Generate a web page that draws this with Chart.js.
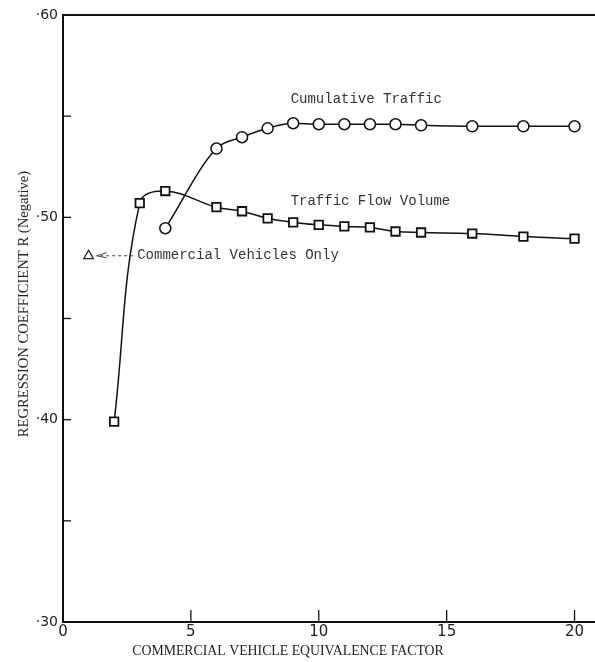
<!DOCTYPE html>
<html>
<head>
<meta charset="utf-8">
<script src="https://cdn.jsdelivr.net/npm/chart.js@4.4.1/dist/chart.umd.min.js"></script>
<style>
  html, body { margin: 0; padding: 0; background: #fff; overflow: hidden; }
  #wrap { width: 595px; height: 662px; position: relative; }
  canvas { display: block; }
</style>
</head>
<body>
<div id="wrap"><canvas id="chart"></canvas></div>
<script>
// values
const flowX = [2, 3, 4, 6, 7, 8, 9, 10, 11, 12, 13, 14, 16, 18, 20];
const flowR = [0.399, 0.507, 0.513, 0.505, 0.503, 0.4995, 0.4975, 0.4963, 0.4955, 0.495, 0.493, 0.4925, 0.492, 0.4905, 0.4895];
const cumX = [4, 6, 7, 8, 9, 10, 11, 12, 13, 14, 16, 18, 20];
const cumR = [0.4946, 0.534, 0.5396, 0.544, 0.5465, 0.546, 0.546, 0.546, 0.546, 0.5455, 0.545, 0.545, 0.545];
const commX = [1];
const commR = [0.481];
const xTicks = [0, 5, 10, 15, 20];
const yTicks = [0.30, 0.35, 0.40, 0.45, 0.50, 0.55, 0.60];

const toPts = (xs, ys) => xs.map((x, i) => ({ x: x, y: ys[i] }));

// text labels placed in data units
const notes = [
  { text: 'Cumulative Traffic', x: 8.9, y: 0.5585 },
  { text: 'Traffic Flow Volume', x: 8.9, y: 0.508 },
  { text: 'Commercial Vehicles Only', x: 2.9, y: 0.481 }
];

const isMajor = v => Math.abs(v * 10 - Math.round(v * 10)) < 1e-6;

const extras = {
  id: 'extras',
  afterDraw(chart) {
    const c = chart.ctx, a = chart.chartArea;
    const xs = chart.scales.x, ys = chart.scales.y;
    c.save();
    // inward tick marks
    c.strokeStyle = '#111';
    c.lineWidth = 1.3;
    yTicks.forEach(v => {
      const py = ys.getPixelForValue(v);
      c.beginPath(); c.moveTo(a.left, py); c.lineTo(a.left + 8, py); c.stroke();
    });
    xTicks.slice(1).forEach(v => {
      const px = xs.getPixelForValue(v);
      c.beginPath(); c.moveTo(px, a.bottom); c.lineTo(px, a.bottom - 12); c.stroke();
    });
    // curve labels
    c.fillStyle = '#333';
    c.font = '14px "Liberation Mono"';
    c.textBaseline = 'middle';
    c.textAlign = 'left';
    notes.forEach(n => c.fillText(n.text, xs.getPixelForValue(n.x), ys.getPixelForValue(n.y)));
    // arrow from label to the triangle
    const tx = xs.getPixelForValue(commX[0]) + 8, ty = ys.getPixelForValue(commR[0]);
    const lx = xs.getPixelForValue(notes[2].x) - 4;
    c.strokeStyle = '#444';
    c.lineWidth = 1;
    c.setLineDash([3, 3]);
    c.beginPath(); c.moveTo(lx, ty); c.lineTo(tx + 4, ty); c.stroke();
    c.setLineDash([]);
    c.beginPath(); c.moveTo(tx + 10, ty - 3); c.lineTo(tx, ty); c.lineTo(tx + 10, ty + 2); c.stroke();
    // axis titles
    c.fillStyle = '#222';
    c.textAlign = 'center';
    c.font = '13.8px "Liberation Serif"';
    c.fillText('COMMERCIAL VEHICLE EQUIVALENCE FACTOR', 288, 651);
    c.font = '14.6px "Liberation Serif"';
    c.translate(24, 304);
    c.rotate(-Math.PI / 2);
    c.fillText('REGRESSION COEFFICIENT R (Negative)', 0, 0);
    c.restore();
  }
};

new Chart(document.getElementById('chart'), {
  type: 'line',
  data: {
    datasets: [{
      label: 'Cumulative Traffic',
      data: toPts(cumX, cumR),
      borderColor: '#111',
      borderWidth: 1.5,
      pointStyle: 'circle',
      pointRadius: 5.5,
      pointBorderWidth: 1.5,
      pointBorderColor: '#111',
      pointBackgroundColor: '#fff',
      cubicInterpolationMode: 'monotone'
    }, {
      label: 'Traffic Flow Volume',
      data: toPts(flowX, flowR),
      borderColor: '#111',
      borderWidth: 1.5,
      pointStyle: 'rect',
      pointRadius: 6,
      pointBorderWidth: 1.8,
      pointBorderColor: '#111',
      pointBackgroundColor: '#fff',
      tension: 0.4
    }, {
      label: 'Commercial Vehicles Only',
      data: toPts(commX, commR),
      showLine: false,
      pointStyle: 'triangle',
      pointRadius: 5.5,
      pointBorderWidth: 1.3,
      pointBorderColor: '#222',
      pointBackgroundColor: '#fff'
    }]
  },
  options: {
    responsive: true,
    maintainAspectRatio: false,
    animation: false,
    layout: { autoPadding: false, padding: { top: 15, right: 0, left: 0, bottom: 0 } },
    plugins: { legend: { display: false }, tooltip: { enabled: false } },
    scales: {
      x: {
        type: 'linear',
        min: 0,
        max: 20.8,
        afterBuildTicks: s => { s.ticks = xTicks.map(v => ({ value: v })); },
        afterFit: s => { s.height = 40; s.paddingRight = 0; s.paddingLeft = 0; },
        grid: { display: false, drawTicks: false },
        border: { display: true, color: '#111', width: 2 },
        ticks: { color: '#222', font: { family: 'DejaVu Sans', size: 15 }, padding: 1, maxRotation: 0 }
      },
      xTop: {
        type: 'linear',
        position: 'top',
        min: 0,
        max: 20.8,
        afterFit: s => { s.height = 0; s.paddingRight = 0; s.paddingLeft = 0; },
        grid: { display: false, drawTicks: false },
        border: { display: true, color: '#111', width: 2 },
        ticks: { display: false }
      },
      y: {
        min: 0.30,
        max: 0.60,
        afterBuildTicks: s => { s.ticks = yTicks.map(v => ({ value: v })); },
        afterFit: s => { s.width = 63; s.paddingTop = 0; s.paddingBottom = 0; },
        grid: { display: false, drawTicks: false },
        border: { display: true, color: '#111', width: 2 },
        ticks: {
          color: '#222',
          font: { family: 'DejaVu Sans', size: 14 },
          padding: 5,
          callback: v => isMajor(v) ? '\u00b7' + Math.round(v * 100) : ''
        }
      }
    }
  },
  plugins: [extras]
});
</script>
</body>
</html>
